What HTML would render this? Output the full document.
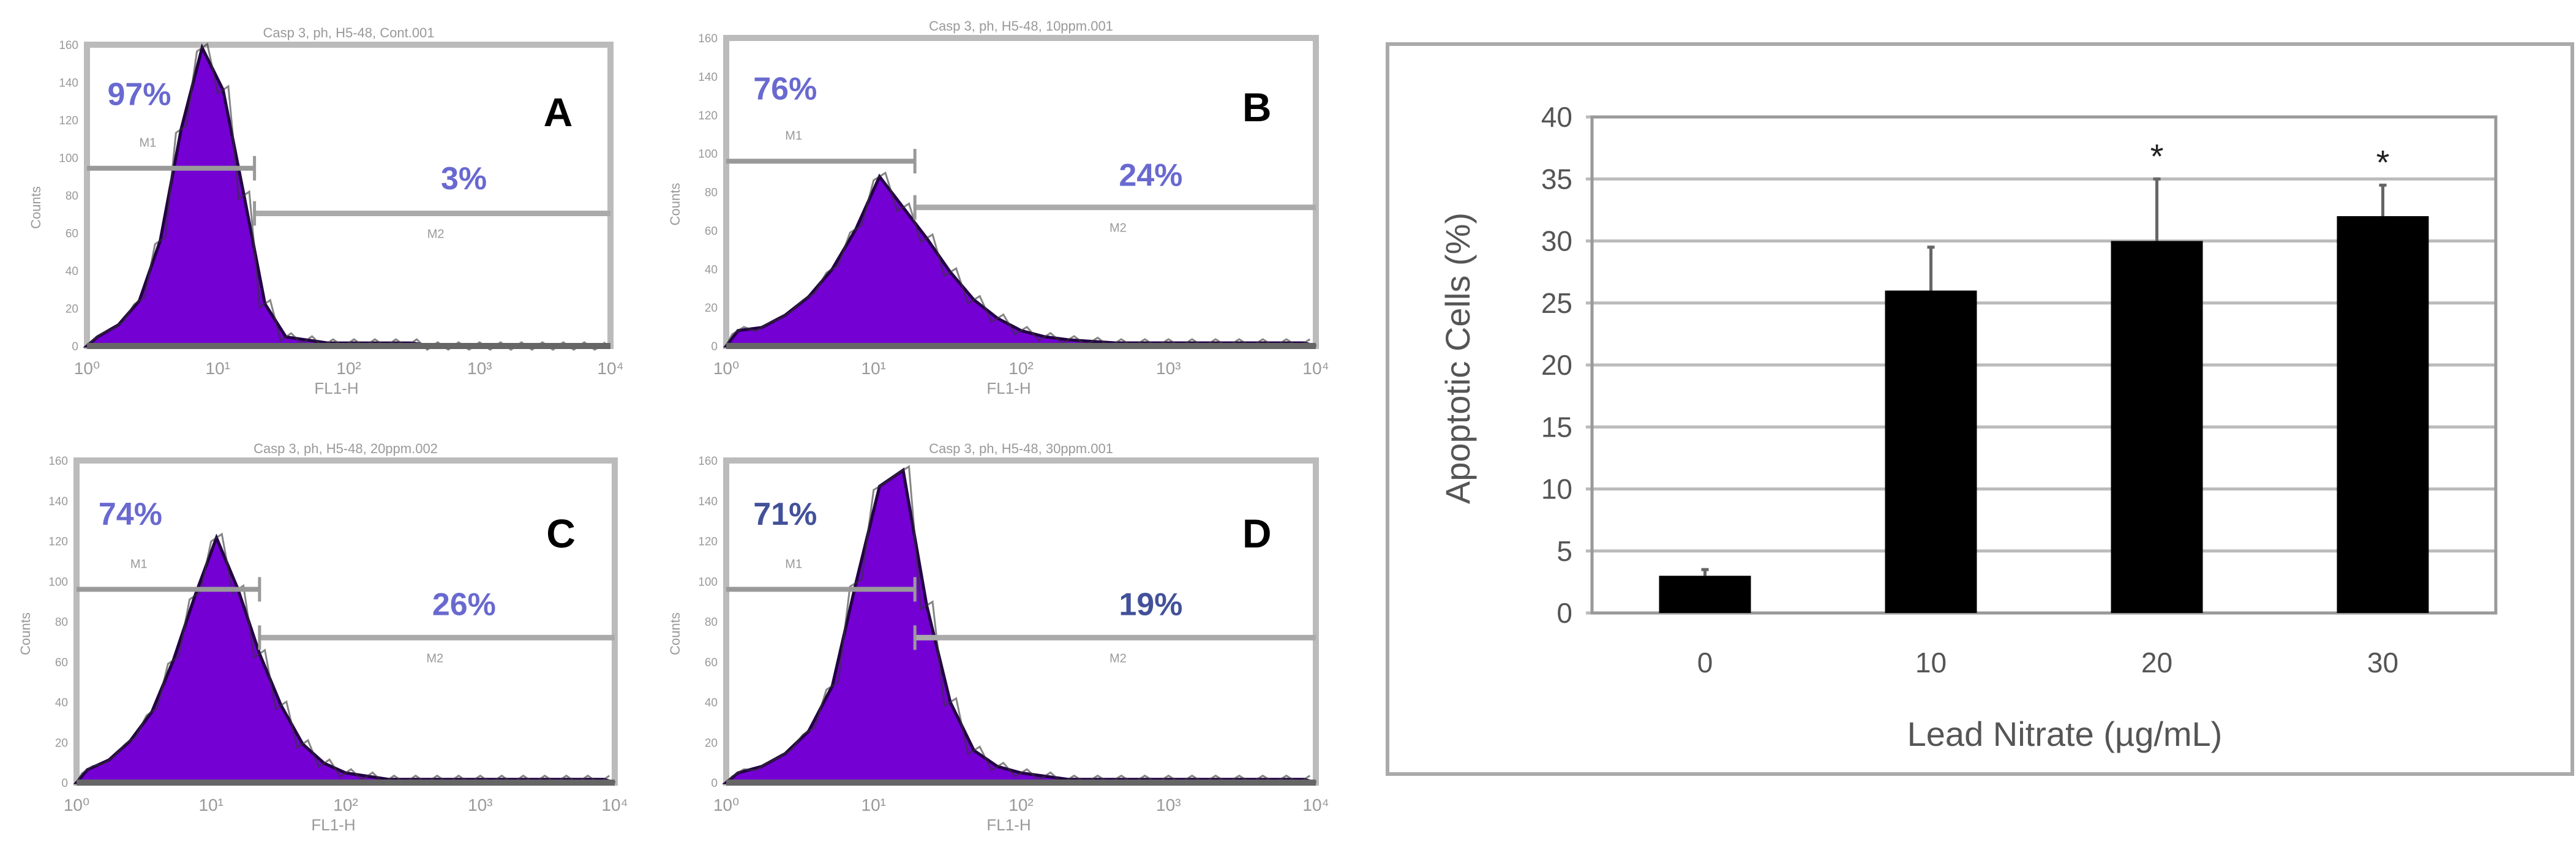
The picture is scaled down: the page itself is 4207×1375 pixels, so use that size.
<!DOCTYPE html>
<html><head><meta charset="utf-8"><style>
html,body{margin:0;padding:0;background:#fff;}
svg{display:block;font-family:"Liberation Sans",sans-serif;}
</style></head><body>
<svg id="fig" width="4207" height="1375" viewBox="0 0 4207 1375"></svg>
<script>
// ---- Histogram data (fraction of panel height per bin across FL1-H range) ----
const histA = [0.03,0.07,0.15,0.35,0.72,0.99,0.85,0.5,0.14,0.03,0.02,0.01,0.01,0.01,0.01,0.01,0,0,0,0,0,0,0,0,0];
const histB = [0.05,0.06,0.1,0.16,0.25,0.38,0.55,0.45,0.35,0.24,0.15,0.09,0.05,0.03,0.02,0.015,0.01,0.01,0.01,0.01,0.01,0.01,0.01,0.01,0.01];
const histC = [0.04,0.07,0.13,0.22,0.38,0.58,0.76,0.6,0.4,0.24,0.12,0.06,0.03,0.02,0.01,0.01,0.01,0.01,0.01,0.01,0.01,0.01,0.01,0.01,0.01];
const histD = [0.03,0.05,0.09,0.16,0.3,0.62,0.92,0.97,0.55,0.25,0.1,0.05,0.03,0.02,0.01,0.01,0.01,0.01,0.01,0.01,0.01,0.01,0.01,0.01,0.01];
const panelLetters = ["A","B","C","D"];
const leftPct = ["97%","76%","74%","71%"];
const rightPct = ["3%","24%","26%","19%"];
const panelTitles = ["Casp 3, ph, H5-48, Cont.001","Casp 3, ph, H5-48, 10ppm.001","Casp 3, ph, H5-48, 20ppm.002","Casp 3, ph, H5-48, 30ppm.001"];
const decadeLabels = ["10⁰","10¹","10²","10³","10⁴"];
const countTicks = ["0","20","40","60","80","100","120","140","160"];

// ---- Bar chart data ----
const categories = ["0","10","20","30"];
const values = [3, 26, 30, 32];
const errors = [0.5, 3.5, 5, 2.5];
const significant = [false, false, true, true];
const yTicks = [0,5,10,15,20,25,30,35,40];

const NS="http://www.w3.org/2000/svg";
const svg=document.getElementById('fig');
function mk(tag,attrs,parent){const e=document.createElementNS(NS,tag);for(const k in attrs)e.setAttribute(k,attrs[k]);(parent||svg).appendChild(e);return e;}

const panels=[
 {x0:142,x1:997,y0:73,y1:565,gateX:0.32,g1:0.41,g2:0.56,data:histA,pctColor:"#5050c8"},
 {x0:1186,x1:2149,y0:62,y1:565,gateX:0.32,g1:0.40,g2:0.55,data:histB,pctColor:"#5050c8"},
 {x0:125,x1:1004,y0:752,y1:1278,gateX:0.34,g1:0.40,g2:0.55,data:histC,pctColor:"#5050c8"},
 {x0:1186,x1:2149,y0:752,y1:1278,gateX:0.32,g1:0.40,g2:0.55,data:histD,pctColor:"#223388"}
];
panels.forEach((p,i)=>{
  const g=mk('g',{});
  
  
  const W=p.x1-p.x0,H=p.y1-p.y0;
  const t=mk('text',{x:(p.x0+p.x1)/2,y:p.y0-12,'text-anchor':'middle','font-size':22,fill:'#999'},g);t.textContent=panelTitles[i];
  
  
  mk('rect',{x:p.x0,y:p.y0,width:W,height:H,fill:'#fff',stroke:'#bbb','stroke-width':10},g);
  const n=p.data.length;
  let d="M"+p.x0+","+p.y1;
  p.data.forEach((v,k)=>{
    const xm=p.x0+W*(k+0.5)/n;
    d+=" L"+xm.toFixed(1)+","+(p.y1-v*H).toFixed(1);
  });
  d+=" L"+p.x1+","+p.y1+" Z";
  const hp=mk('path',{d:d,fill:'#7400d4',stroke:'#220044','stroke-width':5},g);
  
  
  // jagged outline
  let jd="M"+p.x0+","+p.y1;
  p.data.forEach((v,k)=>{
    const xa=p.x0+W*(k+0.25)/n, xb=p.x0+W*(k+0.75)/n;
    const y=p.y1-v*H;
    jd+=" L"+xa.toFixed(1)+","+(y+6).toFixed(1)+" L"+xb.toFixed(1)+","+(y-6).toFixed(1);
  });
  mk('path',{d:jd,fill:'none',stroke:'#333','stroke-width':3,opacity:0.6},g);
  mk('line',{x1:p.x0,y1:p.y1,x2:p.x1,y2:p.y1,stroke:'#666','stroke-width':10},g);
  const gx=p.x0+W*p.gateX;
  const m1=mk('line',{x1:p.x0,y1:p.y0+H*p.g1,x2:gx,y2:p.y0+H*p.g1,stroke:'#999','stroke-width':8},g);
  
  
  mk('line',{x1:gx,y1:p.y0+H*p.g1-20,x2:gx,y2:p.y0+H*p.g1+20,stroke:'#999','stroke-width':5},g);
  const m2=mk('line',{x1:gx,y1:p.y0+H*p.g2,x2:p.x1,y2:p.y0+H*p.g2,stroke:'#aaa','stroke-width':9},g);
  
  
  mk('line',{x1:gx,y1:p.y0+H*p.g2-20,x2:gx,y2:p.y0+H*p.g2+20,stroke:'#999','stroke-width':5},g);
  const l1=mk('text',{x:p.x0+W*0.1,y:p.y0+H*p.g1-35,'font-size':20,fill:'#999'},g);l1.textContent='M1';
  const l2=mk('text',{x:p.x0+W*0.65,y:p.y0+H*p.g2+40,'font-size':20,fill:'#999'},g);l2.textContent='M2';
  const pl=mk('text',{x:p.x0+W*0.1,y:p.y0+H*0.2,'font-size':52,'font-weight':'bold',fill:p.pctColor,'text-anchor':'middle',opacity:0.85},g);pl.textContent=leftPct[i];
  
  
  const pr=mk('text',{x:p.x0+W*0.72,y:p.y0+H*0.48,'font-size':52,'font-weight':'bold',fill:p.pctColor,'text-anchor':'middle',opacity:0.85},g);pr.textContent=rightPct[i];
  
  
  const lt=mk('text',{x:p.x0+W*0.9,y:p.y0+H*0.27,'font-size':66,'font-weight':'bold',fill:'#000','text-anchor':'middle'},g);lt.textContent=panelLetters[i];
  
  
  decadeLabels.forEach((s,k)=>{const tt=mk('text',{x:p.x0+W*k/4,y:p.y1+46,'font-size':28,fill:'#999','text-anchor':'middle'},g);tt.textContent=s;});
  countTicks.forEach((s,k)=>{const tt=mk('text',{x:p.x0-14,y:p.y1-H*k/8+7,'font-size':19,fill:'#999','text-anchor':'end'},g);tt.textContent=s;});
  const xl=mk('text',{x:(p.x0+p.x1)/2-20,y:p.y1+78,'font-size':26,fill:'#999','text-anchor':'middle'},g);xl.textContent='FL1-H';
  const yl=mk('text',{x:0,y:0,'font-size':22,fill:'#999','text-anchor':'middle',transform:`translate(${p.x0-76},${(p.y0+p.y1)/2+20}) rotate(-90)`},g);yl.textContent='Counts';
});

// ---- Bar chart ----
const box=mk('rect',{x:2266,y:72,width:1935,height:1192,fill:'#fff',stroke:'#aaa','stroke-width':6});


const PX0=2600,PX1=4076,PY0=191,PY1=1001;
const yS=v=>PY1-(v/40)*(PY1-PY0);
const band=(PX1-PX0)/categories.length;
const xS=i=>PX0+band*(i+0.5);
yTicks.forEach(v=>{
  const gl=mk('line',{x1:PX0-10,y1:yS(v),x2:PX1,y2:yS(v),stroke:'#bbb','stroke-width':5});
  
  
  const tl=mk('text',{x:PX0-32,y:yS(v)+16,'font-size':46,fill:'#555','text-anchor':'end'});tl.textContent=v;
  
  
});
mk('rect',{x:PX0,y:PY0,width:PX1-PX0,height:PY1-PY0,fill:'none',stroke:'#999','stroke-width':5});
const bw=150;
categories.forEach((c,i)=>{
  const x=xS(i);
  const eb=mk('line',{x1:x,y1:yS(values[i]),x2:x,y2:yS(values[i]+errors[i]),stroke:'#666','stroke-width':5});
  
  
  mk('line',{x1:x-6,y1:yS(values[i]+errors[i]),x2:x+6,y2:yS(values[i]+errors[i]),stroke:'#666','stroke-width':5});
  const b=mk('rect',{x:x-bw/2,y:yS(values[i]),width:bw,height:yS(0)-yS(values[i]),fill:'#000'});
  
  
  if(significant[i]){const s=mk('text',{x:x,y:yS(values[i]+errors[i])-18,'font-size':56,fill:'#222','text-anchor':'middle'});s.textContent='*';
    
    }
  const xl=mk('text',{x:x,y:1098,'font-size':46,fill:'#555','text-anchor':'middle'});xl.textContent=c;
  
  
});
const xt=mk('text',{x:3372,y:1218,'font-size':56,fill:'#555','text-anchor':'middle'});xt.textContent='Lead Nitrate (µg/mL)';


const yt=mk('text',{x:0,y:0,'font-size':56,fill:'#555','text-anchor':'middle',transform:'translate(2400,585) rotate(-90)'});yt.textContent='Apoptotic  Cells (%)';


</script>
</body></html>
